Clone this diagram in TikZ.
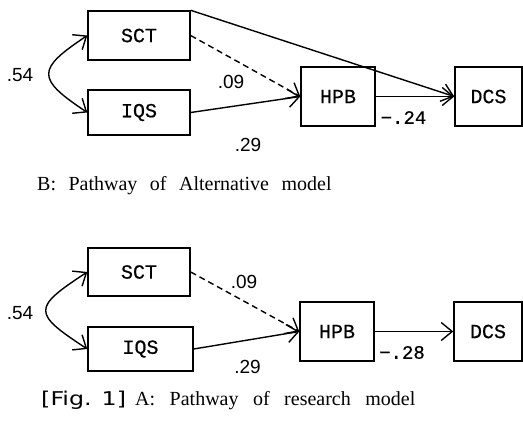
\documentclass[tikz,border=0pt]{standalone}
\usepackage{fontspec}
\setmainfont{Liberation Serif}
\newfontfamily\boxfont[FakeBold=0.6]{Liberation Mono}
\newfontfamily\numfont{Liberation Sans}
\newfontfamily\figfont{DejaVu Sans}
\usetikzlibrary{arrows.meta}

\tikzset{
  varbox/.style={draw, line width=1.4pt, inner sep=0pt,
    font=\boxfont\fontsize{20}{24}\selectfont},
  effect/.style={line width=1.4pt, -{Straight Barb[length=11pt,width=18pt]}},
  weakeffect/.style={effect, dash pattern=on 6pt off 4pt},
  corr/.style={line width=1.4pt,
    {Straight Barb[length=11pt,width=18pt]}-{Straight Barb[length=11pt,width=18pt]}},
  coef/.style={inner sep=0pt, font=\numfont\fontsize{19}{22}\selectfont},
  mcoef/.style={inner sep=0pt, font=\boxfont\fontsize{19}{22}\selectfont},
  captext/.style={inner sep=0pt, anchor=base west,
    font=\fontsize{20}{24}\selectfont}
}

\begin{document}
\begin{tikzpicture}[x=1pt, y=1pt]
\useasboundingbox (0,0) rectangle (523,421);

% ---- B: alternative model ----
\node[varbox, minimum width=102pt, minimum height=49pt] (sctB) at (139,385.5) {SCT};
\node[varbox, minimum width=102pt, minimum height=45pt] (iqsB) at (139,308.5) {IQS};
\node[varbox, minimum width=74pt,  minimum height=59pt] (hpbB) at (338,324.5) {HPB};
\node[varbox, minimum width=67pt,  minimum height=59pt] (dcsB) at (488.5,324.5) {DCS};

\draw[corr] (sctB.west) .. controls +(-51,-34) and +(-51,34) .. (iqsB.west);
\draw[weakeffect] (sctB.east) -- (hpbB.west);
\draw[effect] (iqsB.east) -- (hpbB.west);
\draw[effect] (sctB.north east) -- (dcsB.west);
\draw[effect] (hpbB.east) -- (dcsB.west);

\node[coef]  (rB)   at (20,346)      {.54};
\node[coef]  (b1B)  at (231,339.5)   {.09};
\node[coef]  (b2B)  at (248,276)     {.29};
\node[mcoef] (b3B)  at (403.5,303.5) {\char"2212.24};

\node[captext] (capB) at (37,230)
  {\spaceskip=12.5pt\xspaceskip=12.5pt B: Pathway of Alternative model};

% ---- A: research model ----
\node[varbox, minimum width=102pt, minimum height=48pt] (sctA) at (139,149) {SCT};
\node[varbox, minimum width=105pt, minimum height=44pt] (iqsA) at (140.5,72) {IQS};
\node[varbox, minimum width=74pt,  minimum height=59pt] (hpbA) at (337,89.5) {HPB};
\node[varbox, minimum width=68pt,  minimum height=59pt] (dcsA) at (488,89.5) {DCS};

\draw[corr] (sctA.west) .. controls +(-55,-36) and +(-55,36) .. (iqsA.west);
\draw[weakeffect] (sctA.east) -- (hpbA.west);
\draw[effect] (iqsA.east) -- (hpbA.west);
\draw[effect] (hpbA.east) -- (dcsA.west);

\node[coef]  (rA)   at (20,107.5)  {.54};
\node[coef]  (b1A)  at (244,139.5) {.09};
\node[coef]  (b2A)  at (247.5,54.5) {.29};
\node[mcoef] (b3A)  at (402,68.5)  {\char"2212.28};

\node[captext, xscale=1.25, font=\figfont\fontsize{19}{23}\selectfont] (figA) at (41,15) {[Fig. 1]};
\node[captext] (capA) at (135,15)
  {\spaceskip=14.5pt\xspaceskip=14.5pt A: Pathway of research model};
\end{tikzpicture}
\end{document}
